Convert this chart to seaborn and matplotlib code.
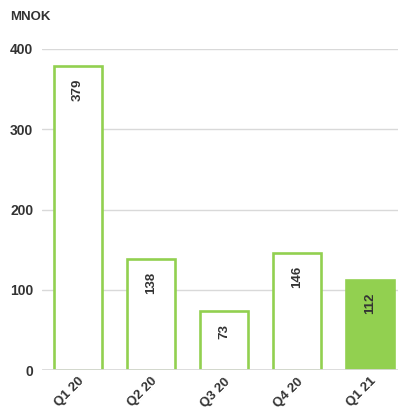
import matplotlib
matplotlib.use("Agg")
import matplotlib.pyplot as plt
import seaborn as sns
import pandas as pd

quarters = ["Q1 20", "Q2 20", "Q3 20", "Q4 20", "Q1 21"]
values = [379, 138, 73, 146, 112]
y_ticks = [0, 100, 200, 300, 400]

green = "#92D050"
text_color = "#333333"

sns.set_theme(style="white")
plt.rcParams["font.family"] = ["Liberation Sans", "DejaVu Sans"]

df = pd.DataFrame({"quarter": quarters, "value": values})

fig = plt.figure(figsize=(3.98, 4.09), dpi=100)
ax = fig.add_axes([41.5 / 398, 39 / 409, (398 - 41.5) / 398, 321 / 409])

sns.barplot(data=df, x="quarter", y="value", ax=ax, width=0.66,
            color="white", edgecolor=green, linewidth=1.9, saturation=1)

# latest quarter is highlighted with a solid fill
ax.patches[-1].set_facecolor(green)

ax.set_ylim(0, 400)
ax.set_xlim(-0.5, 4.38)
ax.set_yticks(y_ticks)
ax.set_yticklabels([str(t) for t in y_ticks], fontsize=10, fontweight="bold", color=text_color)
ax.set_xticks(range(len(quarters)))
ax.set_xticklabels(quarters, rotation=45, ha="right", rotation_mode="anchor",
                   fontsize=9.5, fontweight="bold", color=text_color)
ax.tick_params(axis="both", length=0, pad=6)
ax.tick_params(axis="x", pad=4)
ax.set_xlabel("")
ax.set_ylabel("")

for y in y_ticks[1:]:
    ax.axhline(y, color="#d9d9d9", linewidth=1.0, zorder=0)
ax.axhline(0, color="#d9d9d9", linewidth=2.0, zorder=3)

for s in ax.spines.values():
    s.set_visible(False)

for i, v in enumerate(values):
    ax.annotate(str(v), (i, v), xytext=(0, -9), textcoords="offset points",
                rotation=90, ha="center", va="top", fontsize=9.5,
                fontweight="bold", color=text_color)

fig.text(10 / 398, 1 - 17 / 409, "MNOK", fontsize=9.5, fontweight="bold",
         color=text_color, va="center", ha="left")

fig.savefig("out.png", dpi=100)
